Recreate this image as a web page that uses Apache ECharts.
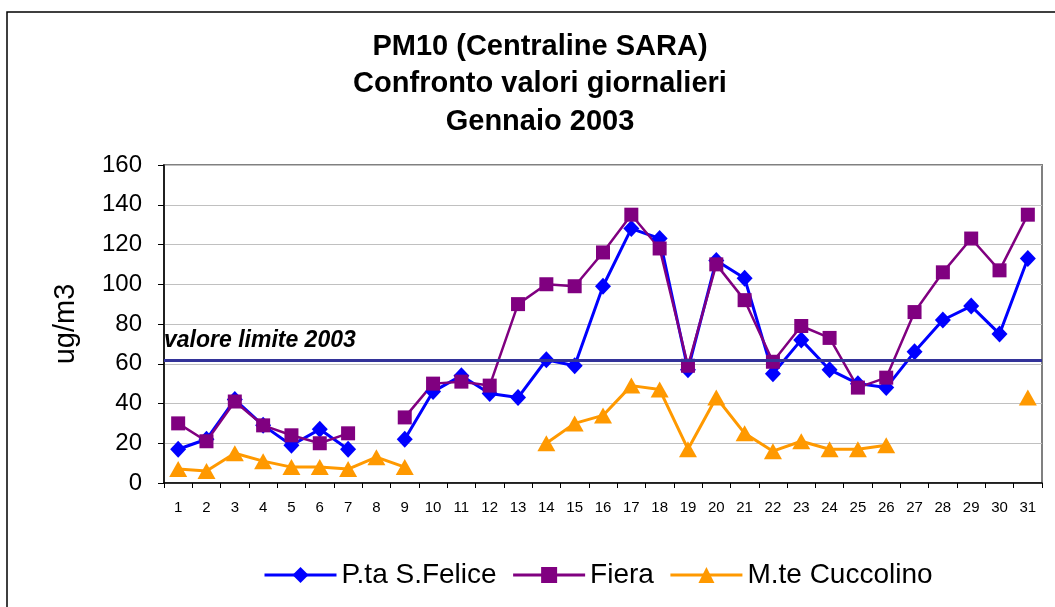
<!DOCTYPE html>
<html>
<head>
<meta charset="utf-8">
<script src="https://cdn.jsdelivr.net/npm/echarts@6/dist/echarts.min.js"></script>
<style>
  html, body { margin: 0; padding: 0; background: #fff; }
  #chart { width: 1055px; height: 607px; }
</style>
</head>
<body>
<div id="chart"></div>
<script>
// giorni di gennaio
var giorni = ['1','2','3','4','5','6','7','8','9','10','11','12','13','14','15','16',
              '17','18','19','20','21','22','23','24','25','26','27','28','29','30','31'];

// valori giornalieri PM10 (ug/m3), null = dato mancante
var santaFelice = [17, 22, 42, 29, 19, 27, 17, null, 22, 46, 54, 45, 43, 62, 59, 99,
                   128, 123, 57, 112, 103, 55, 72, 57, 50, 48, 66, 82, 89, 75, 113];
var fiera = [30, 21, 41, 29, 24, 20, 25, null, 33, 50, 51, 49, 90, 100, 99, 116,
             135, 118, 59, 110, 92, 61, 79, 73, 48, 53, 86, 106, 123, 107, 135];
var cuccolino = [7, 6, 15, 11, 8, 8, 7, 13, 8, null, null, null, null, 20, 30, 34,
                 49, 47, 17, 43, 25, 16, 21, 17, 17, 19, null, null, null, null, 43];

var valoreLimite = 62;

var font = 'Arial, "Liberation Sans", sans-serif';

var myChart = echarts.init(document.getElementById('chart'));

var option = {
    backgroundColor: '#fff',
    animation: false,
    title: {
        text: 'PM10 (Centraline SARA)\nConfronto valori giornalieri\nGennaio 2003',
        left: 535,
        top: 23,
        padding: 5,
        textAlign: 'center',
        textStyle: {
            fontFamily: font,
            fontSize: 29,
            fontWeight: 'bold',
            lineHeight: 37.5,
            color: '#000'
        }
    },
    graphic: [{
        type: 'rect',
        shape: { x: 7, y: 12, width: 1100, height: 700 },
        style: { fill: 'none', stroke: '#000', lineWidth: 1.5 },
        silent: true,
        z: -1
    }],
    legend: {
        bottom: 13,
        left: 258,
        itemWidth: 72,
        itemHeight: 20,
        itemGap: 15,
        lineStyle: { width: 3 },
        textStyle: { fontFamily: font, fontSize: 28, color: '#000' },
        data: ['P.ta S.Felice', 'Fiera', 'M.te Cuccolino']
    },
    grid: {
        left: 164,
        right: 13,
        top: 165,
        bottom: 124,
        show: true,
        borderColor: '#808080',
        borderWidth: 2,
        containLabel: false
    },
    xAxis: {
        type: 'category',
        data: giorni,
        boundaryGap: true,
        axisLine: { lineStyle: { color: '#000', width: 1.5 } },
        axisTick: { show: true, length: 5, alignWithLabel: false, lineStyle: { color: '#000' } },
        axisLabel: { interval: 0, margin: 17, fontFamily: font, fontSize: 15, color: '#000' }
    },
    yAxis: {
        type: 'value',
        min: 0,
        max: 160,
        interval: 20,
        name: 'ug/m3',
        nameLocation: 'middle',
        nameGap: 84,
        nameTextStyle: { fontFamily: font, fontSize: 29, color: '#000' },
        axisLine: { show: true, lineStyle: { color: '#000', width: 1.5 } },
        axisTick: { show: true, length: 6, lineStyle: { color: '#000' } },
        axisLabel: { margin: 22, fontFamily: font, fontSize: 24, color: '#000' },
        splitLine: { lineStyle: { color: '#c0c0c0', width: 1 } }
    },
    series: [
        {
            name: 'P.ta S.Felice',
            type: 'line',
            data: santaFelice,
            connectNulls: false,
            showAllSymbol: true,
            symbol: 'diamond',
            symbolSize: [16, 17],
            lineStyle: { color: '#0000ff', width: 3 },
            itemStyle: { color: '#0000ff' },
            markLine: {
                silent: true,
                symbol: 'none',
                data: [{ yAxis: valoreLimite }],
                lineStyle: { color: '#333399', width: 3, type: 'solid' },
                label: {
                    show: true,
                    position: 'insideStartTop',
                    distance: [0, 8],
                    formatter: 'valore limite 2003',
                    fontFamily: font,
                    fontSize: 23,
                    fontWeight: 'bold',
                    fontStyle: 'italic',
                    color: '#000'
                }
            }
        },
        {
            name: 'Fiera',
            type: 'line',
            data: fiera,
            connectNulls: false,
            showAllSymbol: true,
            symbol: 'rect',
            symbolSize: 14,
            lineStyle: { color: '#800080', width: 2.5 },
            itemStyle: { color: '#800080' }
        },
        {
            name: 'M.te Cuccolino',
            type: 'line',
            data: cuccolino,
            connectNulls: false,
            showAllSymbol: true,
            symbol: 'triangle',
            symbolSize: [18, 16],
            lineStyle: { color: '#ff9900', width: 3 },
            itemStyle: { color: '#ff9900' }
        }
    ]
};

myChart.setOption(option);
</script>
</body>
</html>
